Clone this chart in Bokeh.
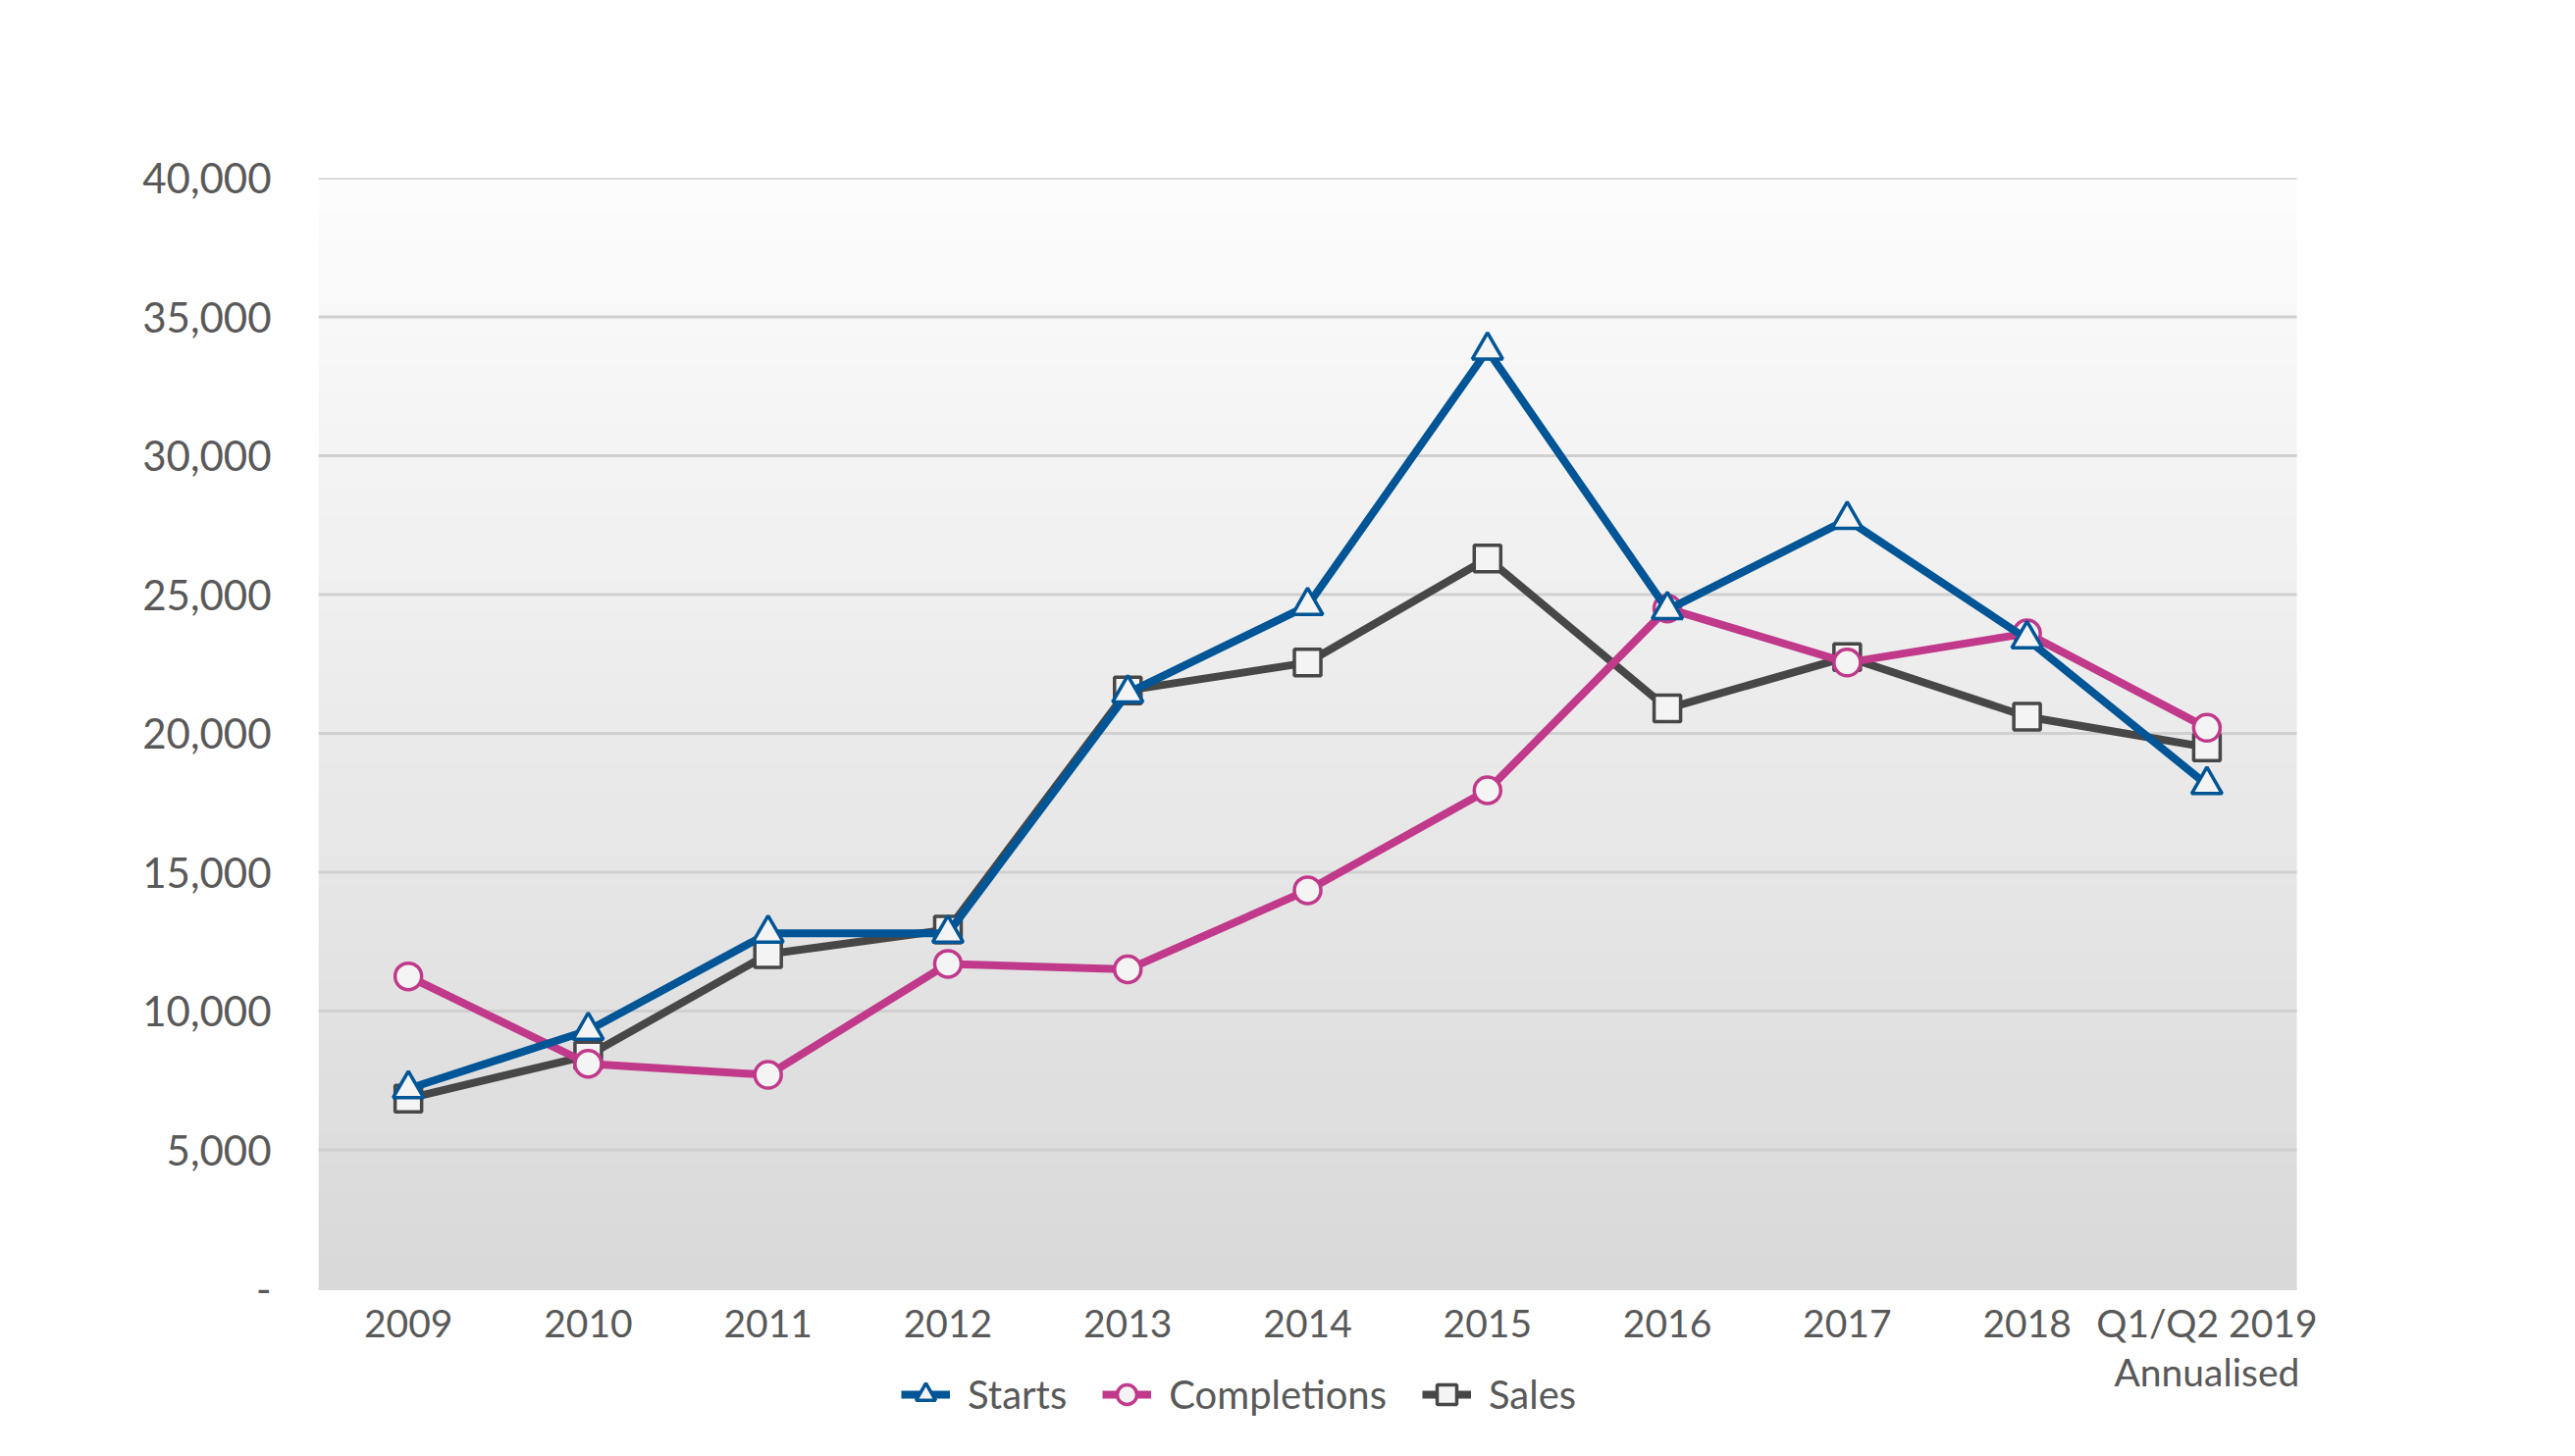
import numpy as np
from bokeh.plotting import figure
from bokeh.models import Legend, LegendItem, NumeralTickFormatter, FixedTicker, Range1d
from bokeh.embed import file_html
from bokeh.resources import INLINE

# ---- data ----
years = ["2009", "2010", "2011", "2012", "2013", "2014", "2015", "2016", "2017", "2018",
         "Q1/Q2 2019\nAnnualised"]
starts = [7200, 9300, 12800, 12800, 21450, 24600, 33800, 24450, 27700, 23400, 18150]
completions = [11250, 8100, 7700, 11700, 11500, 14350, 17950, 24500, 22550, 23600, 20200]
sales = [6850, 8400, 12050, 12930, 21550, 22550, 26300, 20900, 22750, 20600, 19500]
y_ticks = [0, 5000, 10000, 15000, 20000, 25000, 30000, 35000, 40000]

FONT = "Lato"
TXT = "#595959"

xs = list(range(len(years)))
x_lo, x_hi = -0.5, len(years) - 0.5

# frame extends below zero (legend inside) and a little to the right (last tick label)
p = figure(width=2608, height=1468, x_range=Range1d(x_lo, x_hi + 0.6),
           y_range=Range1d(-5477, 40000), output_backend="svg", toolbar_location=None,
           min_border_left=324, min_border_right=158, min_border_top=181, min_border_bottom=0)
p.outline_line_color = None
p.background_fill_color = "white"

# vertical gradient background (styling only)
n = 256
top = np.array([253, 253, 253], dtype=float)
bot = np.array([217, 217, 217], dtype=float)
t = np.linspace(0, 1, n)[:, None]  # row 0 = bottom
cols = bot * (1 - t) + top * t
img = np.zeros((n, 1), dtype=np.uint32)
view = img.view(dtype=np.uint8).reshape((n, 1, 4))
view[:, 0, 0] = cols[:, 0].astype(np.uint8)
view[:, 0, 1] = cols[:, 1].astype(np.uint8)
view[:, 0, 2] = cols[:, 2].astype(np.uint8)
view[:, 0, 3] = 255
p.image_rgba(image=[img], x=x_lo, y=0, dw=x_hi - x_lo, dh=40000, level="image")

# horizontal grid lines limited to the plot area
p.xgrid.grid_line_color = None
p.ygrid.grid_line_color = None
p.segment(x0=[x_lo] * len(y_ticks), x1=[x_hi] * len(y_ticks), y0=y_ticks, y1=y_ticks,
          line_color="#d0d0d0", line_width=3, level="underlay")

# axes
p.yaxis.ticker = FixedTicker(ticks=y_ticks)
p.yaxis.formatter = NumeralTickFormatter(format="0,0")
p.yaxis.major_label_overrides = {0: "-"}
p.yaxis.axis_line_color = None
p.yaxis.major_tick_line_color = None
p.yaxis.minor_tick_line_color = None
p.yaxis.major_label_text_font = FONT
p.yaxis.major_label_text_font_size = "42px"
p.yaxis.major_label_text_color = TXT
p.yaxis.major_label_standoff = 42

p.xaxis.fixed_location = 0
p.xaxis.bounds = (x_lo, x_hi)
p.xaxis.ticker = FixedTicker(ticks=xs)
p.xaxis.major_label_overrides = {i: lab for i, lab in zip(xs, years)}
p.xaxis.axis_line_color = "#d9d9d9"
p.xaxis.axis_line_width = 3
p.xaxis.major_tick_line_color = None
p.xaxis.minor_tick_line_color = None
p.xaxis.major_tick_out = 0
p.xaxis.major_tick_in = 0
p.xaxis.major_label_text_font = FONT
p.xaxis.major_label_text_font_size = "39px"
p.xaxis.major_label_text_color = TXT
p.xaxis.major_label_text_line_height = 1.1
p.xaxis.major_label_standoff = 11

series = [
    ("Starts", starts, "#005596", "triangle", 31),
    ("Completions", completions, "#c0398b", "circle", 27),
    ("Sales", sales, "#474747", "square", 27),
]
rends = {}
for name, vals, color, marker, size in series:
    l = p.line(xs, vals, line_color=color, line_width=8)
    m = p.scatter(xs, vals, marker=marker, size=size, line_color=color, line_width=3.5,
                  fill_color="#f4f4f4")
    rends[name] = (l, m)

# draw order: sales bottom, then completions, then starts on top (as reference)
p.renderers = p.renderers[:2] + [r for name in ["Sales", "Completions", "Starts"] for r in rends[name]]

items = [LegendItem(label=name, renderers=list(rends[name])) for name, *_ in series]

legend = Legend(items=items, orientation="horizontal", location=(594, 22),
                label_text_font=FONT, label_text_font_size="40px", label_text_color=TXT,
                glyph_width=50, glyph_height=50, label_standoff=18, spacing=36,
                padding=0, margin=0, border_line_color=None, background_fill_alpha=0)
p.add_layout(legend, "center")

open("out.html", "w").write(file_html(p, INLINE))
